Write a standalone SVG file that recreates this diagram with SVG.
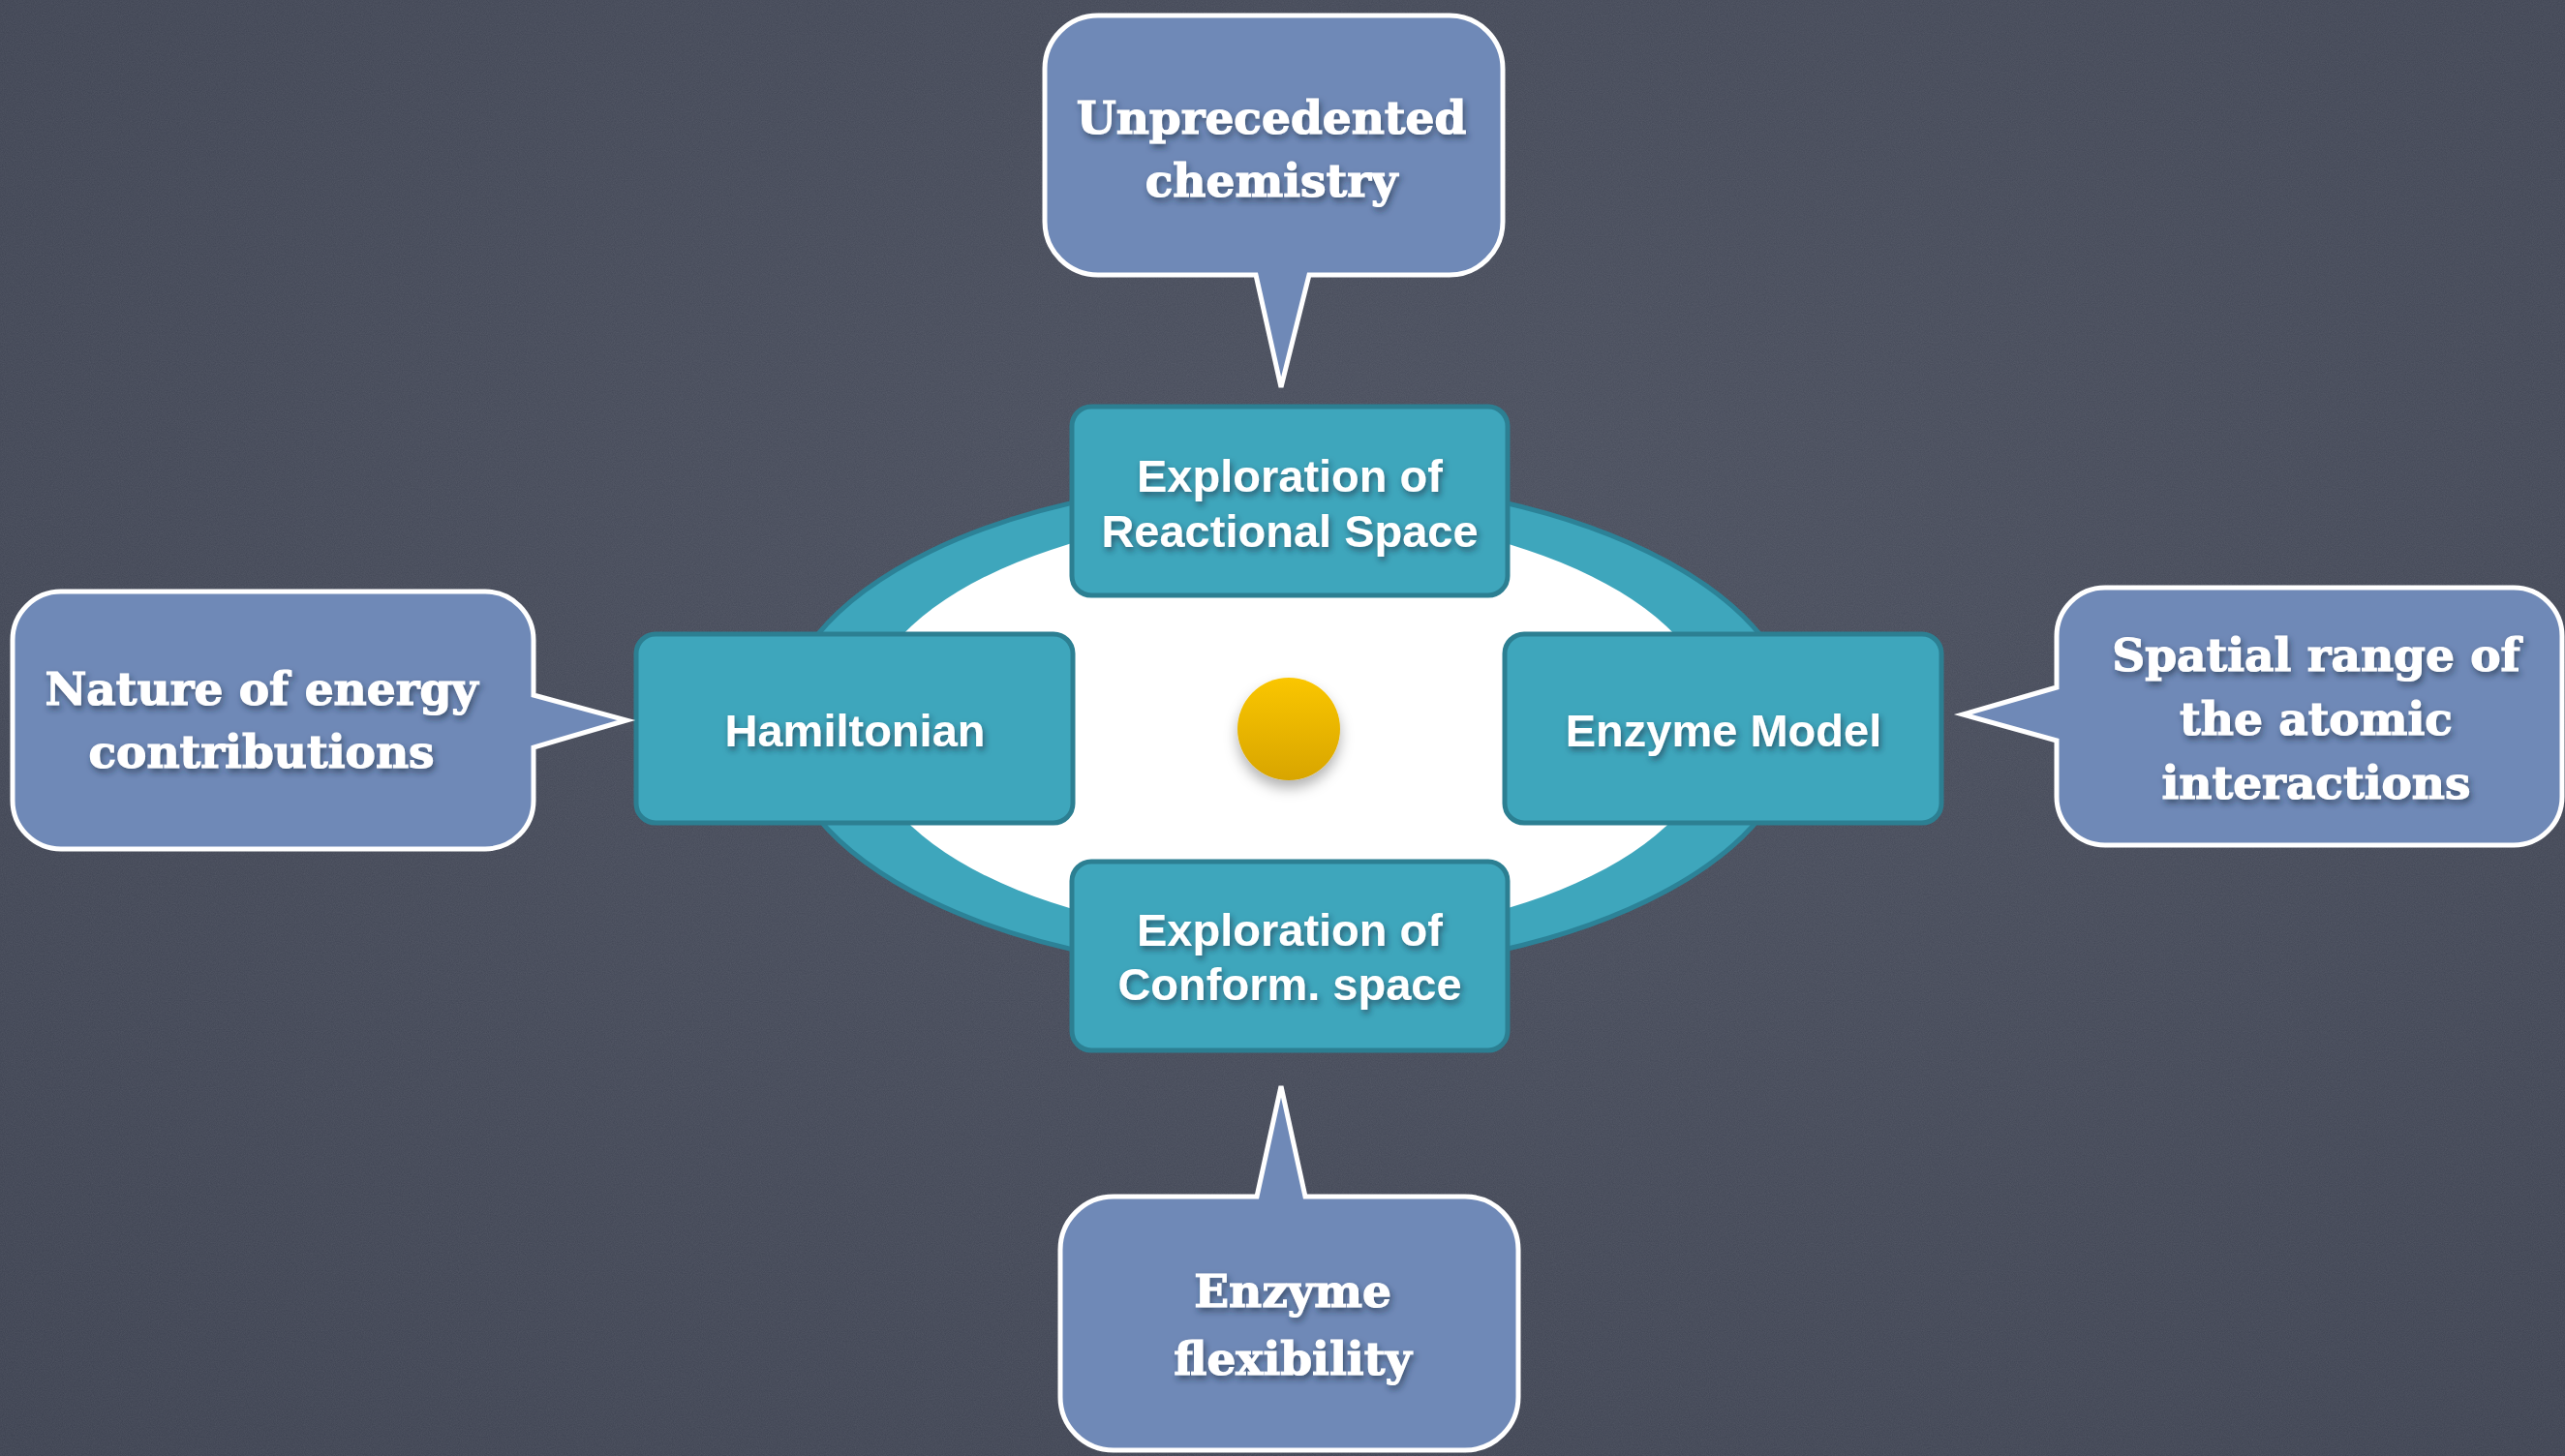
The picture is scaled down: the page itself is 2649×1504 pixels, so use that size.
<svg xmlns="http://www.w3.org/2000/svg" width="2649" height="1504" viewBox="0 0 2649 1504">
  <style>
    .callout { fill: #6f89b7; stroke: #ffffff; stroke-width: 5; stroke-linejoin: miter; }
    .ctext { font-family: "DejaVu Serif", "Liberation Serif", serif; font-weight: bold; font-size: 47px; fill: #ffffff; stroke: #ffffff; stroke-width: 1.2; text-anchor: middle; filter: url(#tshadow); }
    .box { fill: #3ea6bc; stroke: #2c7f92; stroke-width: 5; }
    .btext { font-family: "Liberation Sans", Arial, sans-serif; font-weight: bold; font-size: 47px; fill: #ffffff; text-anchor: middle; filter: url(#tshadow); }
  </style>
  <defs>
    <filter id="tshadow" x="-10%" y="-30%" width="130%" height="180%">
      <feDropShadow dx="2" dy="4" stdDeviation="3" flood-color="#1b2a40" flood-opacity="0.6"/>
    </filter>
    <filter id="bshadow" x="-30%" y="-30%" width="160%" height="170%">
      <feDropShadow dx="0" dy="8" stdDeviation="7" flood-color="#000000" flood-opacity="0.3"/>
    </filter>
    <filter id="noise" x="0" y="0" width="100%" height="100%">
      <feTurbulence type="fractalNoise" baseFrequency="0.9" numOctaves="2" seed="3" result="n"/>
      <feColorMatrix type="matrix" values="0 0 0 0 1  0 0 0 0 1  0 0 0 0 1  0 0 0 0.09 0"/>
    </filter>
    <radialGradient id="bg" cx="0.55" cy="0.4" r="0.8">
      <stop offset="0" stop-color="#4a4f5e"/>
      <stop offset="1" stop-color="#3c4150"/>
    </radialGradient>
    <linearGradient id="gold" x1="0" y1="0" x2="0" y2="1">
      <stop offset="0" stop-color="#fac600"/>
      <stop offset="1" stop-color="#d8a500"/>
    </linearGradient>
  </defs>

  <g id="background">
    <rect x="0" y="0" width="2649" height="1504" fill="url(#bg)"/>
    <rect x="0" y="0" width="2649" height="1504" filter="url(#noise)"/>
  </g>

  <g id="ring">
    <ellipse cx="1331" cy="750" rx="524" ry="255" fill="#3ea6bc" stroke="#2c8297" stroke-width="5"/>
    <ellipse cx="1331" cy="750" rx="442" ry="219" fill="#ffffff"/>
  </g>

  <g id="core">
    <circle cx="1331" cy="753" r="53" fill="url(#gold)" filter="url(#bshadow)"/>
  </g>

  <g id="connectors"></g>

  <g id="node-reactional">
    <rect class="box" x="1107" y="420" width="450" height="195" rx="20"/>
    <text class="btext" x="1332" y="508">Exploration of</text>
    <text class="btext" x="1332" y="565">Reactional Space</text>
  </g>
  <g id="node-hamiltonian">
    <rect class="box" x="657" y="655" width="451" height="195" rx="20"/>
    <text class="btext" x="883" y="771">Hamiltonian</text>
  </g>
  <g id="node-enzyme-model">
    <rect class="box" x="1554" y="655" width="451" height="195" rx="20"/>
    <text class="btext" x="1780" y="771">Enzyme Model</text>
  </g>
  <g id="node-conform">
    <rect class="box" x="1107" y="890" width="450" height="195" rx="20"/>
    <text class="btext" x="1332" y="977">Exploration of</text>
    <text class="btext" x="1332" y="1033">Conform. space</text>
  </g>

  <g id="callout-chemistry">
    <path class="callout" d="M1134,16 H1497 A55,55 0 0 1 1552,71 V229 A55,55 0 0 1 1497,284 H1352 L1323,400 L1297,284 H1134 A55,55 0 0 1 1079,229 V71 A55,55 0 0 1 1134,16 Z"/>
    <text class="ctext" x="1313" y="138">Unprecedented</text>
    <text class="ctext" x="1313" y="203">chemistry</text>
  </g>
  <g id="callout-energy">
    <path class="callout" d="M63,611 H501 A50,50 0 0 1 551,661 V718 L647,744 L551,772 V827 A50,50 0 0 1 501,877 H63 A50,50 0 0 1 13,827 V661 A50,50 0 0 1 63,611 Z"/>
    <text class="ctext" x="270" y="728">Nature of energy</text>
    <text class="ctext" x="270" y="793">contributions</text>
  </g>
  <g id="callout-spatial">
    <path class="callout" d="M2174,607 H2596 A50,50 0 0 1 2646,657 V823 A50,50 0 0 1 2596,873 H2174 A50,50 0 0 1 2124,823 V765 L2027,738 L2124,710 V657 A50,50 0 0 1 2174,607 Z"/>
    <text class="ctext" x="2392" y="693">Spatial range of</text>
    <text class="ctext" x="2392" y="759">the atomic</text>
    <text class="ctext" x="2392" y="825">interactions</text>
  </g>
  <g id="callout-flexibility">
    <path class="callout" d="M1150,1236 H1298 L1323,1122 L1348,1236 H1513 A55,55 0 0 1 1568,1291 V1443 A55,55 0 0 1 1513,1498 H1150 A55,55 0 0 1 1095,1443 V1291 A55,55 0 0 1 1150,1236 Z"/>
    <text class="ctext" x="1335" y="1350">Enzyme</text>
    <text class="ctext" x="1335" y="1420">flexibility</text>
  </g>
</svg>
